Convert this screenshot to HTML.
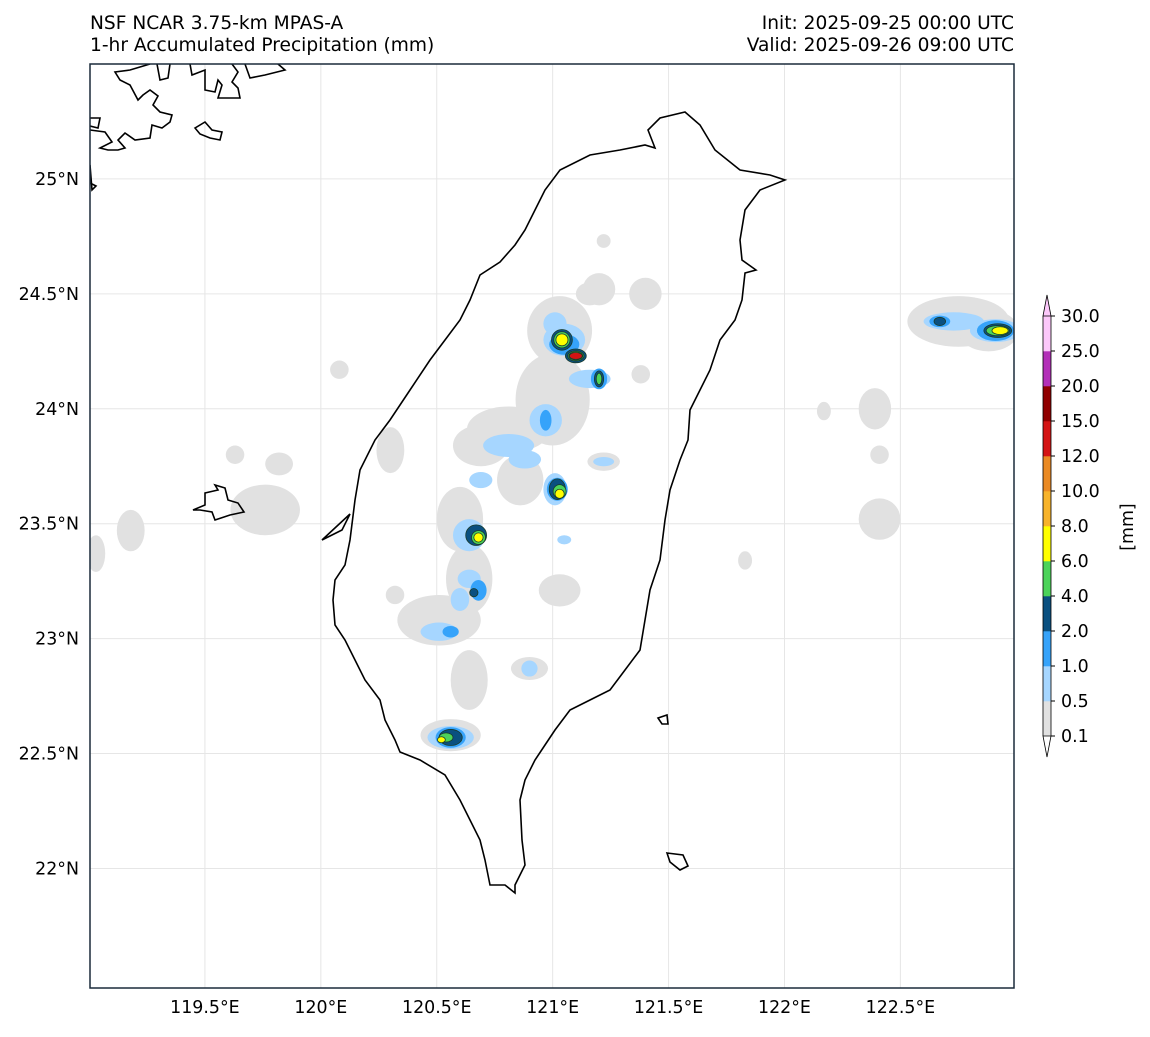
<!DOCTYPE html>
<html><head><meta charset="utf-8"><style>
body{margin:0;background:#fff;font-family:"Liberation Sans","DejaVu Sans",sans-serif;}
svg text{font-family:"DejaVu Sans","Liberation Sans",sans-serif;fill:#000;}
</style></head><body>
<svg id="map" width="1150" height="1032" viewBox="0 0 1150 1032" xmlns="http://www.w3.org/2000/svg">
<text x="90" y="29" font-size="18.6">NSF NCAR 3.75-km MPAS-A</text>
<text x="90" y="51" font-size="18.6">1-hr Accumulated Precipitation (mm)</text>
<text x="1014" y="29" font-size="18.6" text-anchor="end">Init: 2025-09-25 00:00 UTC</text>
<text x="1014" y="51" font-size="18.6" text-anchor="end">Valid: 2025-09-26 09:00 UTC</text>
<defs><clipPath id="clip"><rect x="90" y="64" width="924" height="924"/></clipPath></defs>
<g id="plot" clip-path="url(#clip)"></g>
<g id="coast" clip-path="url(#clip)" fill="none" stroke="#000" stroke-width="1.6">
<path d="M648,130 L660,118 L685,112 L700,125 L715,150 L740,170 L770,175 L785,180 L760,190 L745,210 L740,240 L742,260 L756,270 L745,273 L742,300 L735,320 L720,340 L710,370 L700,390 L690,410 L688,440 L680,460 L670,490 L665,520 L660,560 L650,590 L645,620 L640,650 L625,670 L610,690 L590,700 L570,710 L555,730 L545,745 L535,760 L525,780 L520,800 L522,840 L525,865 L515,885 L515,893 L505,885 L490,885 L485,860 L480,840 L470,820 L460,800 L445,775 L420,760 L400,752 L395,740 L385,720 L380,700 L365,680 L355,660 L345,640 L335,625 L333,600 L335,580 L345,565 L350,540 L355,500 L360,470 L375,440 L390,420 L410,390 L430,360 L445,340 L460,320 L470,300 L480,275 L500,262 L515,245 L525,230 L535,210 L545,190 L560,170 L590,155 L620,150 L645,145 L655,148 Z"/>
<path d="M193,510 L205,505 L205,493 L218,490 L215,485 L225,488 L228,500 L238,503 L244,512 L230,515 L215,520 L212,512 L200,510 Z M322,540 L350,514 L342,530 Z"/>
<path d="M667,853 L683,855 L688,866 L680,870 L670,862 Z"/>
<path d="M658,718 L667,715 L668,724 L662,724 Z"/>
<path d="M90,118 L100,118 L98,128 L90,126 M90,130 L105,132 L112,142 L100,148 L108,150 L118,150 L125,148 L118,140 L125,133 L135,140 L150,138 L152,125 L162,128 L170,122 L172,115 L160,112 L153,105 L158,96 L150,90 L143,95 L138,100 L130,85 L120,80 L115,72 L130,70 L150,64 M157,64 L160,80 L168,78 L170,64 M190,64 L192,75 L205,70 L205,90 L215,92 L218,80 L222,85 L218,98 L240,98 L238,88 L232,82 L238,72 L232,64 M245,64 L250,78 L265,75 L285,70 L278,64 M195,128 L205,122 L212,130 L222,132 L220,140 L210,138 L200,134 Z M90,165 L92,190 L96,186 L90,183"/>
</g>
<rect x="90" y="64" width="924" height="924" fill="none" stroke="#1a2a3a" stroke-width="1.5"/>
<g id="axes"></g>
<g id="cbar"></g>
</svg>
<script>
const NS='http://www.w3.org/2000/svg';
const lonTicks=[119.5,120,120.5,121,121.5,122,122.5];
const lonLabels=['119.5°E','120°E','120.5°E','121°E','121.5°E','122°E','122.5°E'];
const latTicks=[25,24.5,24,23.5,23,22.5,22];
const latLabels=['25°N','24.5°N','24°N','23.5°N','23°N','22.5°N','22°N'];
const cbLevels=['0.1','0.5','1.0','2.0','4.0','6.0','8.0','10.0','12.0','15.0','20.0','25.0','30.0'];
const cbColors=['#e1e1e1','#a6d6ff','#36a3fa','#0a5080','#4cd35a','#ffff00','#f7b32b','#ea8a24','#d41414','#900000','#b330b8','#fcc8fa'];
// precip blobs: [lon, lat, halfwidth_deg_lon, halfwidth_deg_lat]
const gray=[[120.08,24.17,.04,.04],[119.63,23.80,.04,.04],[119.82,23.76,.06,.05],[119.76,23.56,.15,.11],[119.18,23.47,.06,.09],[119.03,23.37,.04,.08],[120.30,23.82,.06,.10],[121.03,24.34,.14,.15],[121.16,24.50,.06,.05],[121.0,24.04,.16,.2],[120.81,23.91,.18,.1],[120.69,23.84,.12,.09],[120.86,23.69,.1,.11],[120.6,23.52,.1,.14],[120.64,23.26,.1,.15],[120.51,23.08,.18,.11],[120.64,22.82,.08,.13],[120.56,22.58,.13,.07],[120.90,22.87,.08,.05],[121.03,23.21,.09,.07],[121.22,23.77,.07,.04],[121.22,24.73,.03,.03],[121.40,24.50,.07,.07],[121.20,24.52,.07,.07],[121.38,24.15,.04,.04],[120.32,23.19,.04,.04],[122.75,24.38,.22,.11],[122.88,24.34,.13,.09],[122.39,24.00,.07,.09],[122.41,23.52,.09,.09],[121.83,23.34,.03,.04],[122.17,23.99,.03,.04],[122.41,23.80,.04,.04]];
const lightBlue=[[121.01,24.37,.05,.05],[121.05,24.30,.09,.07],[121.16,24.13,.09,.04],[120.97,23.95,.07,.07],[120.81,23.84,.11,.05],[120.88,23.78,.07,.04],[120.69,23.69,.05,.035],[120.64,23.45,.07,.07],[120.64,23.26,.05,.04],[120.60,23.17,.04,.05],[120.51,23.03,.08,.04],[121.01,23.65,.05,.07],[120.56,22.57,.10,.05],[120.90,22.87,.035,.035],[121.22,23.77,.045,.02],[122.73,24.38,.13,.04],[122.91,24.34,.11,.05],[121.05,23.43,.03,.02]];
const blue=[[120.97,23.95,.025,.045],[120.56,23.03,.035,.025],[120.68,23.21,.035,.045],[121.20,24.13,.035,.045],[120.67,23.45,.045,.045],[121.02,23.65,.045,.05],[120.56,22.57,.065,.045],[122.67,24.38,.045,.025],[122.91,24.34,.08,.045],[121.05,24.28,.065,.045]];
const dark=[[121.04,24.30,.045,.045],[121.10,24.23,.045,.03],[121.02,23.65,.035,.045],[120.67,23.45,.045,.045],[121.20,24.13,.02,.035],[120.56,22.57,.05,.035],[120.66,23.20,.018,.018],[122.67,24.38,.025,.018],[122.92,24.34,.06,.03]];
const green=[[121.04,24.30,.035,.035],[121.10,24.23,.035,.022],[121.03,23.64,.028,.03],[120.68,23.44,.03,.03],[121.20,24.13,.012,.025],[120.54,22.57,.03,.02],[122.92,24.34,.05,.022]];
const yellow=[[121.04,24.30,.026,.026],[121.03,23.63,.02,.02],[120.68,23.44,.02,.02],[120.52,22.56,.017,.013],[122.93,24.34,.035,.017],[121.10,24.23,.03,.018]];
const red=[[121.10,24.23,.028,.015]];
const layers=[[gray,0,'precip-0.1'],[lightBlue,1,'precip-0.5'],[blue,2,'precip-1'],[dark,3,'precip-2'],[green,4,'precip-4'],[yellow,5,'precip-6'],[red,8,'precip-12']];

const X0=89,X1=1014,Y0=64,Y1=988,LON0=119,LON1=122.99,LAT1=25.5,LAT0=21.48;
const sx=v=>X0+(v-LON0)/(LON1-LON0)*(X1-X0);
const sy=v=>Y0+(LAT1-v)/(LAT1-LAT0)*(Y1-Y0);
const kx=(X1-X0)/(LON1-LON0), ky=(Y1-Y0)/(LAT1-LAT0);
function mk(t,a,p){const e=document.createElementNS(NS,t);for(const k in a)e.setAttribute(k,a[k]);p.appendChild(e);return e;}
const plot=document.getElementById('plot'),axes=document.getElementById('axes'),cb=document.getElementById('cbar');
const FS=17.4;
lonTicks.forEach((v,i)=>{
  const l=mk('line',{x1:sx(v),x2:sx(v),y1:Y0,y2:Y1,stroke:'#e6e6e6','stroke-width':1},plot);
  
  
  const t=mk('text',{x:sx(v),y:1013,'font-size':FS,'text-anchor':'middle'},axes);t.textContent=lonLabels[i];
  
  
});
latTicks.forEach((v,i)=>{
  const l=mk('line',{x1:X0,x2:X1,y1:sy(v),y2:sy(v),stroke:'#e6e6e6','stroke-width':1},plot);
  
  
  const t=mk('text',{x:79,y:sy(v)+6,'font-size':FS,'text-anchor':'end'},axes);t.textContent=latLabels[i];
  
  
});
layers.forEach(([arr,lev,name])=>{
  arr.forEach(b=>{
    const e=mk('ellipse',{cx:sx(b[0]),cy:sy(b[1]),rx:b[2]*kx,ry:b[3]*ky,fill:cbColors[lev],stroke:lev>=3?'#1a3a2a':'none','stroke-width':lev>=3?0.8:0},plot);
    
    
  });
});
// colorbar
const CX=1043,CW=8,CT=316,CB=736,seg=(CB-CT)/cbColors.length;
cbColors.forEach((c,i)=>{
  const r=mk('rect',{x:CX,y:CB-(i+1)*seg,width:CW,height:seg+0.3,fill:c},cb);
  
  
});
const up=mk('path',{d:`M${CX},${CT} L${CX+CW/2},${CT-21} L${CX+CW},${CT} Z`,fill:'#fcc8fa',stroke:'#000','stroke-width':0.8},cb);


const dn=mk('path',{d:`M${CX},${CB} L${CX+CW/2},${CB+21} L${CX+CW},${CB} Z`,fill:'#fff',stroke:'#000','stroke-width':0.8},cb);


const ol=mk('path',{d:`M${CX},${CT} L${CX},${CB} M${CX+CW},${CT} L${CX+CW},${CB}`,stroke:'#000','stroke-width':0.8,fill:'none'},cb);


cbLevels.forEach((s,i)=>{
  const y=CB-i*seg;
  mk('line',{x1:CX+CW,x2:CX+CW+4,y1:y,y2:y,stroke:'#000'},cb);
  const t=mk('text',{x:CX+CW+10,y:y+6,'font-size':FS},cb);t.textContent=s;
  
  
});
const u=mk('text',{x:1133,y:527,'font-size':FS,'text-anchor':'middle',transform:'rotate(-90 1133 527)'},cb);u.textContent='[mm]';


</script>
</body></html>
